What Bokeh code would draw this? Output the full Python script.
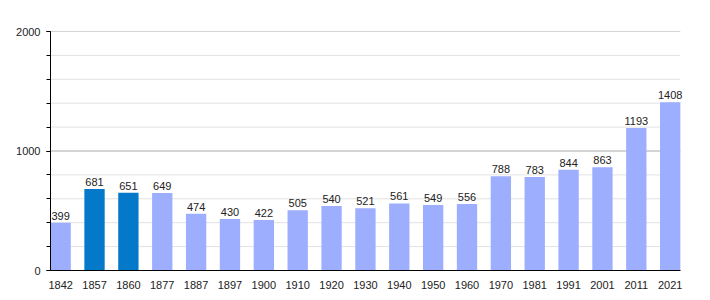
from bokeh.plotting import figure
from bokeh.models import ColumnDataSource, FixedTicker, SingleIntervalTicker, Range1d, LabelSet
from bokeh.core.properties import value
from bokeh.embed import file_html
from bokeh.resources import INLINE

years = ["1842", "1857", "1860", "1877", "1887", "1897", "1900", "1910", "1920", "1930",
         "1940", "1950", "1960", "1970", "1981", "1991", "2001", "2011", "2021"]
population = [399, 681, 651, 649, 474, 430, 422, 505, 540, 521,
              561, 549, 556, 788, 783, 844, 863, 1193, 1408]
highlight = ["1857", "1860"]
grid_values = [200, 400, 600, 800, 1000, 1200, 1400, 1600, 1800, 2000]

LIGHT = "#9daeff"
DARK = "#0479c9"

n = len(years)
xs = list(range(n))
colors = [DARK if y in highlight else LIGHT for y in years]
labels = [str(v) for v in population]
x_lo, x_hi = -0.3, n - 0.7

src = ColumnDataSource(dict(x=xs, top=population, color=colors, label=labels))

p = figure(width=710, height=300, output_backend="svg", toolbar_location=None,
           x_range=Range1d(x_lo, x_hi + 0.3), y_range=Range1d(0, 2000),
           min_border_left=50, min_border_right=20, min_border_top=31, min_border_bottom=30)
p.outline_line_color = None
p.background_fill_color = "white"
p.border_fill_color = "white"
p.xgrid.grid_line_color = None
p.ygrid.grid_line_color = None

# horizontal grid lines limited to the bar area
gsrc = ColumnDataSource(dict(
    y=grid_values,
    x0=[x_lo] * len(grid_values),
    x1=[x_hi] * len(grid_values),
    c=["#aaaaaa" if g % 1000 == 0 else "#e2e2e2" for g in grid_values],
))
p.segment(x0="x0", y0="y", x1="x1", y1="y", line_color="c", line_width=1, source=gsrc)

p.vbar(x="x", top="top", width=0.6, bottom=0, fill_color="color", line_color=None, source=src)
p.add_layout(LabelSet(x="x", y="top", text="label", source=src, text_align="center",
                      text_baseline="bottom", y_offset=3, text_font=value("Liberation Sans"),
                      text_font_size=value("11px"), text_color=value("#222222")))

# y axis
p.yaxis.ticker = SingleIntervalTicker(interval=1000, num_minor_ticks=5)
p.yaxis.axis_line_color = "black"
p.yaxis.major_tick_line_color = "black"
p.yaxis.minor_tick_line_color = "black"
p.yaxis.major_tick_in = 0
p.yaxis.major_tick_out = 4
p.yaxis.minor_tick_in = 0
p.yaxis.minor_tick_out = 4
p.yaxis.major_label_standoff = 6
p.yaxis.major_label_text_font = "Liberation Sans"
p.yaxis.major_label_text_font_size = "11px"
p.yaxis.major_label_text_color = "#222222"

# x axis
p.xaxis.ticker = FixedTicker(ticks=xs)
p.xaxis.bounds = (x_lo, x_hi)
p.xaxis.major_label_overrides = {i: y for i, y in enumerate(years)}
p.xaxis.axis_line_color = "black"
p.xaxis.major_tick_line_color = None
p.xaxis.minor_tick_line_color = None
p.xaxis.major_label_standoff = 4
p.xaxis.major_label_text_font = "Liberation Sans"
p.xaxis.major_label_text_font_size = "11px"
p.xaxis.major_label_text_color = "#222222"

open("out.html", "w").write(file_html(p, INLINE))
